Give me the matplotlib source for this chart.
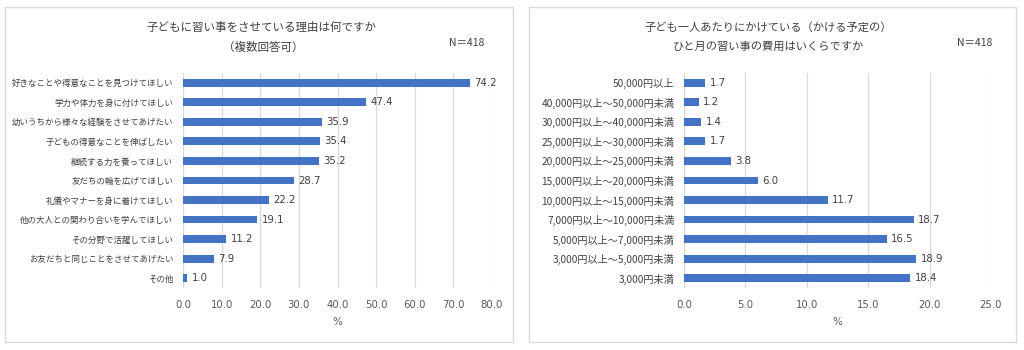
import matplotlib.pyplot as plt
from matplotlib.patches import Rectangle

plt.rcParams['font.family'] = ['Noto Sans CJK JP', 'DejaVu Sans']

# Reasons for taking lessons (multiple answers), %
reasons = [
    "好きなことや得意なことを見つけてほしい",
    "学力や体力を身に付けてほしい",
    "幼いうちから様々な経験をさせてあげたい",
    "子どもの得意なことを伸ばしたい",
    "継続する力を養ってほしい",
    "友だちの輪を広げてほしい",
    "礼儀やマナーを身に着けてほしい",
    "他の大人との関わり合いを学んでほしい",
    "その分野で活躍してほしい",
    "お友だちと同じことをさせてあげたい",
    "その他",
]
reason_pct = [74.2, 47.4, 35.9, 35.4, 35.2, 28.7, 22.2, 19.1, 11.2, 7.9, 1.0]

# Monthly lesson cost per child, %
cost_bands = [
    "50,000円以上",
    "40,000円以上～50,000円未満",
    "30,000円以上～40,000円未満",
    "25,000円以上～30,000円未満",
    "20,000円以上～25,000円未満",
    "15,000円以上～20,000円未満",
    "10,000円以上～15,000円未満",
    "7,000円以上～10,000円未満",
    "5,000円以上～7,000円未満",
    "3,000円以上～5,000円未満",
    "3,000円未満",
]
cost_pct = [1.7, 1.2, 1.4, 1.7, 3.8, 6.0, 11.7, 18.7, 16.5, 18.9, 18.4]

BAR = "#4472C4"
TXT = "#595959"
DARK = "#404040"
GRID = "#D9D9D9"
NUM_FONT = "DejaVu Sans"

fig = plt.figure(figsize=(10.24, 3.5), dpi=100)

# panel frames
for x0, x1 in [(5, 513), (529, 1016)]:
    fig.patches.append(Rectangle((x0 / 1024, 1 - 342 / 350), (x1 - x0) / 1024, 335 / 350,
                                 transform=fig.transFigure, fill=False,
                                 edgecolor=GRID, linewidth=1))


def draw(ax, labels, values, xmax, step, label_size):
    y = list(range(len(labels)))
    ax.barh(y, values, height=0.4, color=BAR, zorder=3)
    ax.set_ylim(len(labels) - 0.5, -0.5)
    ax.set_yticks(y)
    ax.set_yticklabels(labels, fontsize=label_size, color=DARK)
    ax.set_xlim(0, xmax)
    ticks = [i * step for i in range(int(round(xmax / step)) + 1)]
    ax.set_xticks(ticks)
    ax.set_xticklabels([f"{t:.1f}" for t in ticks], fontsize=7.3, color=TXT,
                       family=NUM_FONT)
    ax.tick_params(axis="x", length=0, pad=9)
    ax.tick_params(axis="y", length=0, pad=7)
    ax.grid(axis="x", color=GRID, linewidth=0.9, zorder=0)
    for s in ax.spines.values():
        s.set_visible(False)
    ax.axvline(0, color=GRID, linewidth=0.9, zorder=1)
    for yi, v in zip(y, values):
        ax.text(v + xmax * 0.015, yi, f"{v:.1f}", va="center", ha="left",
                fontsize=7.3, color=DARK, family=NUM_FONT, zorder=4)
    ax.set_xlabel("%", fontsize=7.5, color=TXT, labelpad=5, family=NUM_FONT)


ax1 = fig.add_axes([183 / 1024, 1 - 288 / 350, (492 - 183) / 1024, 215 / 350])
draw(ax1, reasons, reason_pct, 80, 10, 6.1)
fig.text(261 / 1024, 1 - 27 / 350, "子どもに習い事をさせている理由は何ですか",
         ha="center", va="center", fontsize=8.3, color=DARK)
fig.text(263 / 1024, 1 - 47 / 350, "（複数回答可）",
         ha="center", va="center", fontsize=8.3, color=DARK)
fig.text(467 / 1024, 1 - 43 / 350, "N＝418", ha="center", va="center",
         fontsize=7.5, color=DARK)

ax2 = fig.add_axes([684 / 1024, 1 - 288 / 350, (991 - 684) / 1024, 215 / 350])
draw(ax2, cost_bands, cost_pct, 25, 5, 7.3)
fig.text(768 / 1024, 1 - 27 / 350, "子ども一人あたりにかけている（かける予定の）",
         ha="center", va="center", fontsize=8.1, color=DARK)
fig.text(768 / 1024, 1 - 47 / 350, "ひと月の習い事の費用はいくらですか",
         ha="center", va="center", fontsize=8.1, color=DARK)
fig.text(975 / 1024, 1 - 43 / 350, "N＝418", ha="center", va="center",
         fontsize=7.5, color=DARK)

fig.savefig("out.png", dpi=100, facecolor="white")
